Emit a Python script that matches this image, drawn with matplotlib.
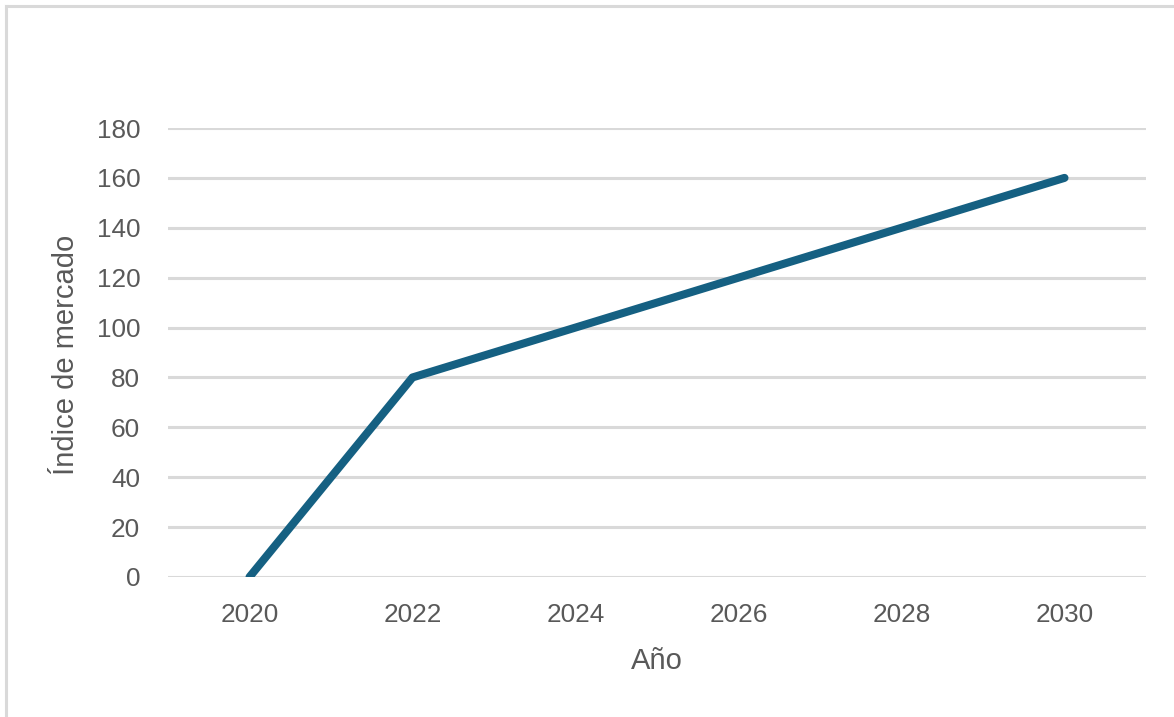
#!/usr/bin/env python3
# Market index line chart (Excel-like style)
import matplotlib
matplotlib.use("Agg")
import matplotlib.pyplot as plt
from matplotlib.lines import Line2D

years = ["2020", "2022", "2024", "2026", "2028", "2030"]
index_values = [0, 80, 100, 120, 140, 160]
y_ticks = [0, 20, 40, 60, 80, 100, 120, 140, 160, 180]

line_color = "#156082"
grid_color = "#D9D9D9"
text_color = "#595959"

plt.rcParams['font.family'] = ['Liberation Sans', 'DejaVu Sans']

fig = plt.figure(figsize=(11.74, 7.17), dpi=100)
ax = fig.add_axes([168/1174, 1 - 577/717, 978/1174, 449/717])

x = list(range(len(years)))
ax.plot(x, index_values, color=line_color, linewidth=5.8,
        solid_capstyle='round', solid_joinstyle='round', zorder=3)

ax.set_xlim(-0.5, len(years) - 0.5)
ax.set_ylim(0, 180)
ax.set_xticks(x)
ax.set_xticklabels(years)
ax.set_yticks(y_ticks)

ax.grid(axis='y', color=grid_color, linewidth=2.2)
ax.set_axisbelow(True)
for s in ax.spines.values():
    s.set_visible(False)
ax.tick_params(axis='both', length=0, labelsize=18.8, colors=text_color)
ax.tick_params(axis='y', pad=20)
ax.tick_params(axis='x', pad=18.5)
for lbl in ax.get_yticklabels():
    lbl.set_clip_on(False)

fig.text(66/1174, 1 - 355/717, "Índice de mercado", rotation=90,
         ha='center', va='center', fontsize=21, color=text_color)
fig.text(657/1174, 1 - 661/717, "Año",
         ha='center', va='center', fontsize=21, color=text_color)

# light frame on left and top edges
fig.add_artist(Line2D([6/1174, 6/1174], [0, 1 - 6/717], color="#D9D9D9",
                      linewidth=2.2, transform=fig.transFigure))
fig.add_artist(Line2D([6/1174, 1], [1 - 6/717, 1 - 6/717], color="#D9D9D9",
                      linewidth=2.2, transform=fig.transFigure))

fig.savefig("out.png", dpi=100, facecolor="white")
